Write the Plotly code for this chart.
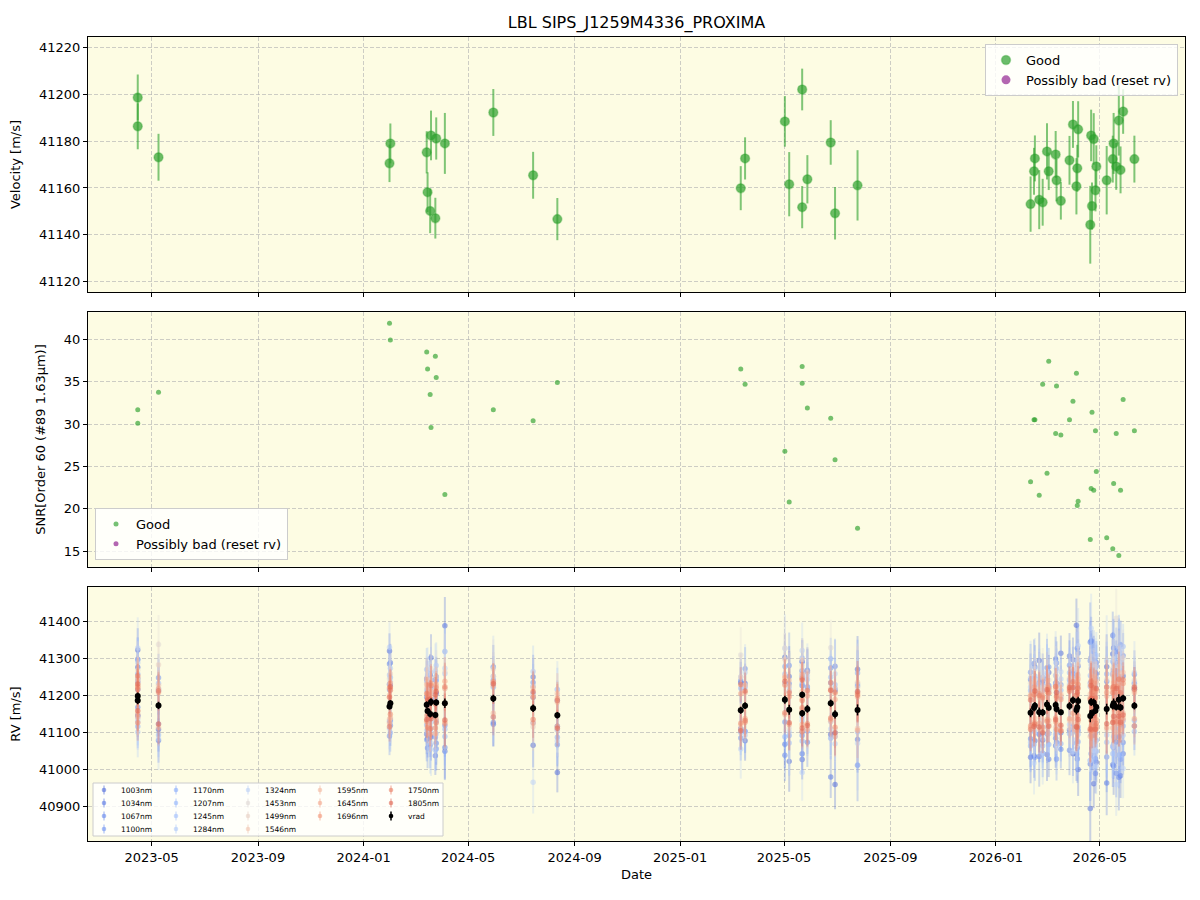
import plotly.graph_objects as go
from plotly.subplots import make_subplots
from plotly.colors import sample_colorscale

# ---------------- data ----------------
dates = [
    "2023-04-15", "2023-04-15", "2023-05-09", "2024-01-31", "2024-02-01", "2024-03-14",
    "2024-03-15", "2024-03-18", "2024-03-19", "2024-03-24", "2024-03-25", "2024-04-04",
    "2024-05-30", "2024-07-15", "2024-08-12", "2025-03-12", "2025-03-17", "2025-05-02",
    "2025-05-07", "2025-05-22", "2025-05-22", "2025-05-28", "2025-06-24", "2025-06-29",
    "2025-07-25", "2026-02-10", "2026-02-14", "2026-02-15", "2026-02-20", "2026-02-24",
    "2026-03-01", "2026-03-03", "2026-03-11", "2026-03-12", "2026-03-17", "2026-03-27",
    "2026-03-31", "2026-04-04", "2026-04-05", "2026-04-06", "2026-04-20", "2026-04-21",
    "2026-04-22", "2026-04-24", "2026-04-26", "2026-04-27", "2026-05-09", "2026-05-16",
    "2026-05-17", "2026-05-20", "2026-05-23", "2026-05-25", "2026-05-28", "2026-06-10",
]
vrad = [
    41198.6, 41186.3, 41173.1, 41170.5, 41179.0, 41175.2,
    41158.2, 41150.2, 41182.4, 41147.1, 41181.1, 41179.0,
    41192.2, 41165.4, 41146.7, 41159.9, 41172.6, 41188.4,
    41161.6, 41202.0, 41151.8, 41163.7, 41179.4, 41149.2,
    41161.1, 41153.1, 41167.1, 41172.6, 41155.0, 41153.9,
    41175.6, 41167.1, 41174.3, 41163.3, 41154.5, 41171.8,
    41187.1, 41160.7, 41168.4, 41185.0, 41144.3, 41182.4,
    41152.3, 41180.9, 41159.0, 41169.2, 41163.3, 41172.3,
    41179.0, 41169.2, 41188.8, 41167.7, 41192.6, 41172.3,
]
vrad_err = [
    9.8, 9.8, 10.0, 8.0, 8.5, 9.0,
    8.5, 9.5, 10.6, 8.7, 9.0, 13.0,
    10.0, 10.0, 9.0, 9.4, 9.0, 10.8,
    13.7, 8.9, 9.0, 10.3, 9.5, 11.2,
    15.0, 11.8, 10.0, 9.8, 12.6, 10.0,
    12.0, 8.0, 10.0, 9.0, 8.0, 10.4,
    10.0, 12.0, 10.0, 12.0, 16.6, 11.0,
    10.0, 11.0, 9.0, 9.0, 14.6, 10.0,
    13.0, 10.0, 15.0, 10.0, 9.5, 10.0,
]
snr = [
    31.7, 30.1, 33.75, 41.9, 39.9, 38.5,
    36.5, 33.5, 29.6, 38.0, 35.5, 21.7,
    31.7, 30.4, 34.9, 36.5, 34.7, 26.8,
    20.8, 36.8, 34.8, 31.9, 30.7, 25.8,
    17.7, 23.2, 30.5, 30.5, 21.6, 34.7,
    24.2, 37.4, 28.9, 34.5, 28.7, 30.5,
    32.7, 36.0, 20.4, 20.9, 16.4, 22.4,
    31.4, 22.2, 29.2, 24.4, 16.6, 15.3,
    23.0, 28.9, 14.5, 22.2, 32.9, 29.2,
]

wavelengths = [1003, 1034, 1067, 1100, 1170, 1207, 1245, 1284, 1324,
               1453, 1499, 1546, 1595, 1645, 1696, 1750, 1805]
# typical per-band uncertainty (m/s) at a vrad error of 10 m/s
band_err = [60, 60, 65, 65, 60, 60, 65, 70, 85, 80, 65, 60, 50, 50, 50, 50, 55]

# per-band RV offsets from vrad (m/s), one value per epoch
dv_1003nm = [125, 90, -65, 150, -45, 70, -75, 105, -95, 45, 25, 210, 85, -100, -155, 75, -95, 115,
             -140, 65, -125, 100, -85, -190, 110, -120, 65, -95, 140, -75, -135, 95, -110, 70, 160, -65,
             -145, 230, 55, -185, -250, 120, -95, -220, 85, -150, 115, 140, -170, -95, 130, -185, 60, 45]
dv_1034nm = [100, -40, -95, 60, 110, -80, 55, -60, 120, -110, 70, -130, -70, 85, 40, -50, 60, -120,
             90, -160, 75, 105, -200, 65, -80, 90, -130, 105, -60, 85, 70, -140, 125, -90, -55, 135,
             110, -120, 160, 95, -130, 165, 105, 115, -170, 90, -200, -160, 150, 120, -210, 80, -150, 60]
dv_1067nm = [-30, 60, 40, 115, -60, 20, -100, 70, -40, 95, -110, -120, -65, 30, -30, 80, -70, -150,
             70, -100, 140, -90, 55, 130, -150, -70, 120, 55, -120, 95, 100, 60, -90, 125, -100, -120,
             80, -60, -140, 130, 200, -90, 140, 100, -130, 120, 75, 190, 90, -180, 95, 170, -120, -55]
dv_1100nm = [-55, 30, 75, -80, 50, -95, 80, -85, 60, -50, -125, -60, 50, 70, -80, -75, 100, -60,
             120, 90, -60, 60, 95, -50, 65, 110, -50, -140, 80, -110, -80, 110, 60, -135, 75, 110,
             -70, 90, -110, -80, 150, -140, 160, -90, 100, 110, -130, 85, -120, 150, -100, -140, 115, 85]
dv_1170nm = [60, -70, -50, 45, -80, 65, -50, 90, 30, -60, 60, 140, 40, 60, -60, -50, 55, 90,
             -70, 50, 80, -60, -95, 70, 100, -90, 70, 60, -60, 80, 50, -100, 80, 45, -85, 70,
             60, -90, 120, -70, 90, 70, -80, 130, -60, -120, 95, -110, 90, -80, -150, 100, -75, 50]
dv_1207nm = [40, 110, -80, -40, 70, -55, 95, -45, -70, 75, -50, -90, 30, 40, -40, 60, -70, -100,
             50, 100, -75, 55, 120, -60, 70, 60, -100, 80, 50, -90, -60, 55, -80, 110, 60, -75,
             70, 100, -95, -110, 80, 90, -100, 75, 130, -90, 60, 120, -110, 70, 140, -130, -60, -40]
dv_1245nm = [-70, 50, 60, 85, -50, 95, -60, 40, 80, -95, 60, -70, 60, -40, 70, -60, 50, 70,
             -90, -60, 95, -60, 70, 80, -60, -80, 80, 45, 90, 60, 85, -70, 55, -95, 40, 90,
             -80, 60, 90, 110, -120, -80, 80, -110, 65, 80, -90, -130, 110, 85, -80, 90, 140, -70]
dv_1284nm = [90, -85, 45, -60, 95, 40, 50, -95, -55, 40, 100, 80, -50, 100, -70, 90, -80, 45,
             60, -70, 110, 80, -50, -80, 50, 70, -65, -70, 55, -70, 80, 45, -70, 60, 90, -50,
             90, -80, 70, -90, 110, 100, 60, -80, -95, 140, -70, 90, -90, 100, 70, 110, -100, 65]
dv_1324nm = [130, -50, -90, 160, 60, -70, 100, 55, -110, 120, -85, 95, 85, -200, 70, -105, 90, 140,
             -60, 120, -160, 90, -70, 110, -90, 95, -150, 100, 75, -110, 90, -70, 115, -100, 110, 60,
             -140, 110, -100, 150, -120, 200, 90, -130, 120, -160, 130, -110, 120, -210, 100, 150, -190, 90]
dv_1453nm = [70, 40, 165, 75, -40, 60, -45, 65, 90, -50, 70, 85, 80, 60, -40, 150, 55, 140,
             -50, 70, 130, -55, 150, -40, 60, 80, -50, 70, 60, 95, -60, 75, 80, -50, 70, -60,
             85, -60, 70, 100, 50, -70, 80, 60, 75, -60, 80, 100, 70, 240, -60, 90, 110, 70]
dv_1499nm = [50, -30, 110, 60, 80, 45, 70, -40, 60, 50, -35, 40, 60, -50, 55, 90, -40, 110,
             65, 95, -45, 100, 40, 70, 75, 45, 70, -45, 60, 50, 65, 40, -60, 70, -40, 75,
             60, 80, -50, 70, 85, 60, -50, 70, 55, 65, -55, 85, 60, -70, 90, 75, -60, 55]
dv_1546nm = [30, 60, 55, -35, 40, 70, 40, 55, -40, 65, 45, -50, 45, 35, 60, -40, 55, 65,
             80, -40, 60, 45, -50, 55, -50, 50, 40, 60, -45, 35, 50, -45, 45, 55, 50, -40,
             -60, 55, 65, -55, 60, 45, 50, -60, 40, 70, 55, -45, -50, 65, 55, -60, 70, 40]
dv_1595nm = [40, -45, -60, 30, -40, 55, -35, 45, 30, -50, 50, 40, -40, 55, 35, -50, 35, -40,
             50, -45, 40, -55, 35, -60, 35, -40, 55, -35, 40, -50, 45, -35, 50, -40, 45, 55,
             -50, 40, -45, 60, -55, 40, -40, 55, -50, 45, 35, -60, 55, -45, 40, 50, -40, 35]
dv_1645nm = [-50, 35, 45, -45, 55, -30, 45, -55, -40, 35, -45, 60, 35, -40, -30, 45, -35, 60,
             -40, 55, -30, 35, -45, 40, -55, 45, -40, 50, -30, 45, -40, 55, -45, 30, -50, -35,
             45, -55, 35, -40, 50, -65, 35, -45, 50, -35, -50, 45, -45, 40, -50, 35, -55, -35]
dv_1696nm = [25, -60, 35, 50, -30, -45, -45, 30, 50, -35, 40, -55, 45, 30, 45, -35, -45, 40,
             35, 45, -50, -40, 55, -35, 45, -35, -45, 40, 50, -40, 35, 50, -35, -55, 35, 45,
             -35, -45, 50, 45, -40, -50, 55, 35, -40, -55, 45, 50, 40, 55, -35, -45, 40, -55]
dv_1750nm = [55, 30, 40, -55, 35, 30, 35, -40, 45, 30, -55, 45, -50, -30, 40, 70, -40, -35,
             45, -35, 35, 50, -40, 60, 40, -45, 35, -50, 45, 40, -45, 40, 50, 35, -50, 40,
             50, 40, -55, 35, 45, 55, -45, 40, 35, -45, 60, 35, 45, -40, 55, 40, 50, 45]
dv_1805nm = [-40, 45, -50, 25, 45, -40, 30, 40, -45, 55, 30, -45, 40, 45, -35, -55, 40, 50,
             -35, 40, -40, -45, 35, -50, 50, 35, -50, 40, -40, -55, 40, -50, -40, 45, -35, 50,
             35, -45, 40, -50, -35, 45, 40, -35, -50, 50, -40, -45, -35, 50, -45, -40, -45, 50]

band_offsets = [dv_1003nm, dv_1034nm, dv_1067nm, dv_1100nm, dv_1170nm, dv_1207nm, dv_1245nm,
                dv_1284nm, dv_1324nm, dv_1453nm, dv_1499nm, dv_1546nm, dv_1595nm, dv_1645nm,
                dv_1696nm, dv_1750nm, dv_1805nm]

# ---------------- styling ----------------
FONT = "DejaVu Sans"
BG = "#fdfce3"
GRID = "rgba(180,180,180,0.65)"
GREEN = "rgba(44,160,44,0.7)"
GREEN_ERR = "rgba(44,160,44,0.6)"
PURPLE = "rgba(128,0,128,0.6)"
coolwarm = [[0.0, "rgb(59,76,192)"], [0.125, "rgb(98,130,234)"], [0.25, "rgb(141,176,254)"],
            [0.375, "rgb(184,208,249)"], [0.5, "rgb(221,221,221)"], [0.625, "rgb(245,196,173)"],
            [0.75, "rgb(244,154,123)"], [0.875, "rgb(222,96,77)"], [1.0, "rgb(180,4,38)"]]


def band_color(wl, alpha):
    t = 0.08 + 0.78 * (wl - wavelengths[0]) / (wavelengths[-1] - wavelengths[0])
    r, g, b = sample_colorscale(coolwarm, [t], colortype="tuple")[0]
    return f"rgba({int(r*255)},{int(g*255)},{int(b*255)},{alpha})"


W, H = 1200, 900
L, R, T, B = 88, 15, 37, 59
PW, PH = W - L - R, H - T - B


def fx(px):
    return (px - L) / PW


def fy(py):
    return (H - B - py) / PH


fig = make_subplots(rows=3, cols=1, shared_xaxes=True)

# ---- top panel: velocity ----
fig.add_trace(go.Scatter(
    x=dates, y=vrad, mode="markers", name="Good",
    marker=dict(color=GREEN, size=9, line=dict(width=1.5, color="rgba(44,160,44,0.35)")),
    error_y=dict(type="data", array=vrad_err, color=GREEN_ERR, thickness=2, width=0),
    legend="legend"), row=1, col=1)
fig.add_trace(go.Scatter(
    x=[None], y=[None], mode="markers", name="Possibly bad (reset rv)",
    marker=dict(color=PURPLE, size=9), legend="legend"), row=1, col=1)

# ---- middle panel: SNR ----
fig.add_trace(go.Scatter(
    x=dates, y=snr, mode="markers", name="Good",
    marker=dict(color="rgba(44,160,44,0.65)", size=5, line=dict(width=0)), legend="legend2"), row=2, col=1)
fig.add_trace(go.Scatter(
    x=[None], y=[None], mode="markers", name="Possibly bad (reset rv)",
    marker=dict(color=PURPLE, size=5), legend="legend2"), row=2, col=1)

# ---- bottom panel: per-band RVs ----
for wl, dv, be in zip(wavelengths, band_offsets, band_err):
    rv = [v + d for v, d in zip(vrad, dv)]
    err = [be * e / 10.0 for e in vrad_err]
    fig.add_trace(go.Scatter(
        x=dates, y=rv, mode="markers", name=f"{wl}nm", showlegend=False,
        marker=dict(color=band_color(wl, 0.55), size=5.5, line=dict(width=0)),
        error_y=dict(type="data", array=err, color=band_color(wl, 0.3), thickness=2, width=0)),
        row=3, col=1)
fig.add_trace(go.Scatter(
    x=dates, y=vrad, mode="markers", name="vrad", showlegend=False,
    marker=dict(color="black", size=6),
    error_y=dict(type="data", array=vrad_err, color="black", thickness=1.5, width=0)),
    row=3, col=1)

# ---------------- axes ----------------
axis_common = dict(showline=True, linecolor="black", linewidth=1, mirror=True,
                   ticks="outside", ticklen=4, tickcolor="black",
                   showgrid=True, gridcolor=GRID, griddash="4px,2px", gridwidth=1,
                   zeroline=False, tickfont=dict(size=13, color="black", family=FONT))
xr = ["2023-02-16 12:00", "2026-08-07 12:00"]
for i in (1, 2, 3):
    fig.update_xaxes(axis_common, range=xr, tick0="2023-01-01", dtick="M4", tickformat="%Y-%m",
                     row=i, col=1)
fig.update_xaxes(title=dict(text="Date", font=dict(size=13, family=FONT, color="black"), standoff=6),
                 row=3, col=1)

fig.update_yaxes(axis_common, range=[41115.6, 41224.4], tick0=41120, dtick=20, tickformat="d",
                 title=dict(text="Velocity [m/s]", font=dict(size=13, family=FONT, color="black")),
                 row=1, col=1)
fig.update_yaxes(axis_common, range=[13.18, 43.18], tick0=15, dtick=5,
                 title=dict(text="SNR[Order 60 (#89 1.63μm)]", font=dict(size=13, family=FONT, color="black")),
                 row=2, col=1)
fig.update_yaxes(axis_common, range=[40806, 41494], tick0=40900, dtick=100, tickformat="d",
                 title=dict(text="RV [m/s]", font=dict(size=13, family=FONT, color="black")),
                 row=3, col=1)

fig.update_layout(
    xaxis=dict(domain=[0, 1]), xaxis2=dict(domain=[0, 1]), xaxis3=dict(domain=[0, 1]),
    yaxis=dict(domain=[fy(292), 1.0]),
    yaxis2=dict(domain=[fy(566.7), fy(312.3)]),
    yaxis3=dict(domain=[0.0, fy(587)]),
)

# ---------------- legends ----------------
leg_style = dict(bgcolor="rgba(255,255,255,0.8)", bordercolor="#cccccc", borderwidth=1,
                 font=dict(size=13, family=FONT, color="black"))
shapes = []
annotations = []

# bottom-panel legend built from shapes + text (5 columns, column-major like the original)
box = dict(type="rect", xref="paper", yref="paper", x0=fx(93), x1=fx(443), y0=fy(836), y1=fy(783),
           fillcolor="rgba(255,255,255,0.8)", line=dict(color="#cccccc", width=1), layer="above")
shapes.append(box)
col_marker_x = [104, 176, 248, 320, 391]
row_y = [790, 803, 816, 829]
col_sizes = [4, 4, 4, 3, 3]
labels = [f"{wl}nm" for wl in wavelengths] + ["vrad"]
slots = [(c, r) for c, n in enumerate(col_sizes) for r in range(n)]
for k, lab in enumerate(labels):
    c, r = slots[k]
    mx, my = col_marker_x[c], row_y[r]
    if lab == "vrad":
        mcol, lcol = "black", "black"
    else:
        wl = wavelengths[k]
        mcol, lcol = band_color(wl, 0.6), band_color(wl, 0.45)
    shapes.append(dict(type="line", xref="paper", yref="paper", xsizemode="pixel", ysizemode="pixel",
                       xanchor=fx(mx), yanchor=fy(my), x0=0, x1=0, y0=-4.5, y1=4.5,
                       line=dict(color=lcol, width=1.5), layer="above"))
    shapes.append(dict(type="circle", xref="paper", yref="paper", xsizemode="pixel", ysizemode="pixel",
                       xanchor=fx(mx), yanchor=fy(my), x0=-2.3, x1=2.3, y0=-2.3, y1=2.3,
                       fillcolor=mcol, line=dict(width=0), layer="above"))
    annotations.append(dict(text=lab, xref="paper", yref="paper", x=fx(mx + 15), y=fy(my),
                            xanchor="left", yanchor="middle", showarrow=False,
                            font=dict(size=7.5, family=FONT, color="black")))

fig.update_layout(
    width=W, height=H,
    margin=dict(l=L, r=R, t=T, b=B),
    paper_bgcolor="white", plot_bgcolor=BG,
    font=dict(family=FONT, size=13, color="black"),
    title=dict(text="LBL SIPS_J1259M4336_PROXIMA", x=fx((L + W - R) / 2), xref="paper",
               xanchor="center", y=1 - 22 / H, yanchor="middle",
               font=dict(size=16, family=FONT, color="black")),
    legend=dict(leg_style, x=fx(1178), y=fy(44), xanchor="right", yanchor="top"),
    legend2=dict(leg_style, x=fx(95), y=fy(560), xanchor="left", yanchor="bottom"),
    shapes=shapes, annotations=annotations,
)

fig.write_html("out.html")
